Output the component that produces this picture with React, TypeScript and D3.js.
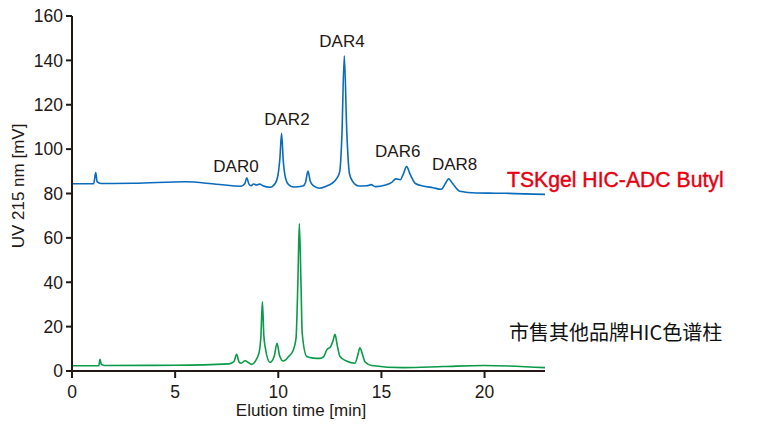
import React from 'react'
import * as d3 from 'd3'

// chromatogram traces: [elution time (min), UV 215 nm (mV)]
const tskgelTrace: [number, number][] = [
  [0, 84.4], [1.05, 84.4], [1.15, 89.4], [1.22, 85.2], [1.4, 84.5], [3.0, 84.6],
  [5.5, 85.3], [7.0, 84.2], [8.2, 83.3], [8.38, 84.5], [8.47, 87.1], [8.58, 84.2],
  [8.68, 83.5], [8.8, 84.3], [8.95, 83.8], [9.1, 84.3], [9.25, 83.5], [9.6, 82.8],
  [9.85, 84.5], [9.98, 88], [10.08, 96], [10.16, 107.1], [10.24, 95], [10.35, 87],
  [10.5, 84], [10.75, 82.9], [11.2, 83.4], [11.32, 85], [11.44, 90.1], [11.55, 85.5],
  [11.7, 83.5], [12.0, 82.4], [12.3, 83.2], [12.6, 84.6], [12.85, 87], [12.98, 90],
  [13.08, 105], [13.2, 142.1], [13.32, 108], [13.45, 89], [13.6, 85.5], [13.9, 83.4],
  [14.3, 83.5], [14.5, 84], [14.7, 83.1], [15.2, 83.8], [15.5, 85], [15.7, 86.6],
  [15.92, 86.2], [16.05, 88.5], [16.22, 92.1], [16.4, 88.5], [16.65, 84.5], [17.0, 83.4],
  [17.5, 82.6], [17.9, 81.9], [18.1, 84.5], [18.26, 86.6], [18.45, 84.5], [18.8, 81],
  [19.6, 80.2], [21.0, 80.1], [22.93, 79.6],
]

const otherTrace: [number, number][] = [
  [0, 2.4], [1.3, 2.4], [1.36, 5.3], [1.42, 3.0], [1.6, 2.5], [5.0, 2.6],
  [7.6, 3.2], [7.85, 4.2], [7.98, 7.5], [8.1, 4.0], [8.2, 3.5], [8.39, 4.6],
  [8.55, 3.8], [8.71, 3.0], [8.95, 5.5], [9.08, 8.7], [9.16, 16], [9.23, 31.2],
  [9.3, 16], [9.38, 10], [9.6, 3.9], [9.8, 6.5], [9.94, 12.5], [10.06, 7],
  [10.24, 4.5], [10.5, 6.5], [10.73, 9.5], [10.86, 14.7], [10.95, 40], [11.02, 66.5],
  [11.1, 40], [11.16, 17], [11.38, 6.5], [11.7, 5.8], [12.02, 5.7], [12.2, 6.5],
  [12.35, 9.5], [12.54, 11], [12.65, 13.5], [12.75, 16.5], [12.85, 12], [12.99, 6.5],
  [13.3, 4.5], [13.72, 3.5], [13.85, 7], [13.96, 10.5], [14.08, 7.5], [14.2, 4.2],
  [14.53, 2.5], [16.06, 1.5], [18.0, 2.0], [19.94, 2.5], [22.93, 1.5],
]

// peak labels, placed in data coordinates (label centre, baseline)
const darLabels = ['DAR0', 'DAR2', 'DAR4', 'DAR6', 'DAR8']
const darLabelTime = [7.95, 10.42, 13.09, 15.79, 18.55]
const darLabelValue = [89.8, 110.9, 146.1, 96.6, 90.6]

const xTicks = [0, 5, 10, 15, 20]
const yTicks = [0, 20, 40, 60, 80, 100, 120, 140, 160]

const seriesNames = ['TSKgel HIC-ADC Butyl', '市售其他品牌HIC色谱柱']

const AXIS = '#231815'
const FONT = '"Liberation Sans", Arial, Helvetica, sans-serif'

const App = () => {
  const width = 757
  const height = 426

  const x = d3.scaleLinear().domain([0, 22.93]).range([72, 545])
  const y = d3.scaleLinear().domain([0, 160]).range([371, 16])

  const line = d3
    .line<[number, number]>()
    .x((d) => x(d[0]))
    .y((d) => y(d[1]))
    .curve(d3.curveMonotoneX)

  return (
    <svg
      width={width}
      height={height}
      style={{ position: 'absolute', left: 0, top: 0, background: '#fff' }}
      fontFamily={FONT}
    >
      {/* traces */}
      <path d={line(otherTrace) ?? ''} fill="none" stroke="#0a9a48" strokeWidth={1.6} />
      <path d={line(tskgelTrace) ?? ''} fill="none" stroke="#0a6bbd" strokeWidth={1.6} />

      {/* y axis */}
      <line x1={x(0)} x2={x(0)} y1={y(160)} y2={y(0) + 4} stroke={AXIS} strokeWidth={2} />
      {yTicks.map((t) => (
        <g key={`y-${t}`} transform={`translate(0 ${y(t)})`}>
          <line x1={x(0) - 6} x2={x(0)} stroke={AXIS} strokeWidth={2} />
          <text x={63} dy="0.36em" textAnchor="end" fontSize={17.5} fill={AXIS}>
            {t}
          </text>
        </g>
      ))}

      {/* x axis */}
      <line x1={x(0) - 1} x2={x(22.93)} y1={y(0)} y2={y(0)} stroke={AXIS} strokeWidth={2} />
      {xTicks.map((t) => (
        <g key={`x-${t}`} transform={`translate(${x(t)} 0)`}>
          <line y1={y(0)} y2={y(0) + 7} stroke={AXIS} strokeWidth={2} />
          <text y={398} textAnchor="middle" fontSize={17.5} fill={AXIS}>
            {t}
          </text>
        </g>
      ))}

      <text x={301} y={416} textAnchor="middle" fontSize={17} fill={AXIS}>
        Elution time [min]
      </text>
      <text
        transform="translate(24 186) rotate(-90)"
        textAnchor="middle"
        fontSize={17}
        fill={AXIS}
      >
        UV 215 nm [mV]
      </text>

      {/* peak labels */}
      {darLabels.map((label, i) => (
        <text
          key={label}
          x={x(darLabelTime[i])}
          y={y(darLabelValue[i])}
          textAnchor="middle"
          fontSize={17}
          fill={AXIS}
        >
          {label}
        </text>
      ))}

      {/* series names */}
      <text
        x={507}
        y={187}
        fontSize={21.2}
        fill="#e60012"
        stroke="#e60012"
        strokeWidth={0.4}
      >
        {seriesNames[0]}
      </text>
      <text
        x={509}
        y={340}
        fontSize={20}
        fill="#111"
        fontFamily='"Noto Sans CJK SC", sans-serif'
      >
        {seriesNames[1]}
      </text>
    </svg>
  )
}

export default App
